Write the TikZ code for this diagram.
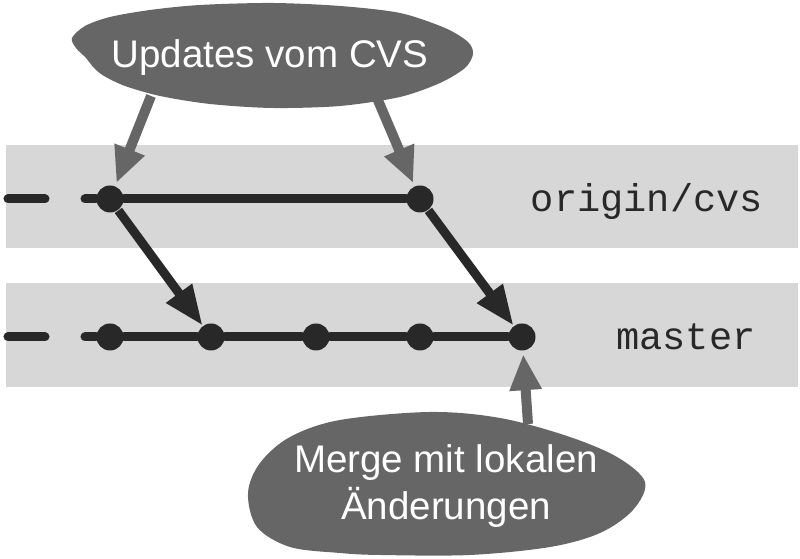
\documentclass[tikz,border=0pt]{standalone}
\usepackage{fontspec}
\setmainfont{Liberation Sans}
\newfontfamily\monofont{Liberation Mono}
\usetikzlibrary{arrows.meta}
\definecolor{bandgray}{HTML}{D7D7D7}
\definecolor{bubblegray}{HTML}{666666}
\definecolor{ink}{HTML}{282828}
\begin{document}
\begin{tikzpicture}[x=0.01cm,y=-0.01cm,
  commit/.style={circle,fill=ink,inner sep=0pt,minimum size=0.27cm},
  branchline/.style={draw=ink,line width=0.09cm,line cap=round},
  mergearrow/.style={draw=ink,line width=0.09cm,-{Triangle[length=0.40cm,width=0.30cm]}},
  pointer/.style={draw=bubblegray,line width=0.10cm,-{Triangle[length=0.36cm,width=0.30cm]},shorten >=0.03cm},
  bubbletext/.style={text=white,font=\fontsize{10.95pt}{13.4pt}\selectfont,align=center,inner sep=0pt},
  branchlabel/.style={font=\monofont\fontsize{11pt}{13pt}\selectfont,text=ink,inner sep=0pt,anchor=base}
]
\useasboundingbox (0,0) rectangle (800,559);
% bands
\fill[bandgray] (6,145) rectangle (798,248);
\fill[bandgray] (6,283) rectangle (798,387);
% bubbles
\fill[bubblegray] plot[smooth cycle,tension=0.5] coordinates {
  (72,38) (85,26) (110,17) (150,10) (200,5) (272,3) (340,6) (400,13)
  (445,28) (468,42) (473,54) (465,68) (440,83) (400,97) (340,106)
  (272,108) (210,104) (160,96) (125,86) (104,76) (94,68) (86,58) (76,48)};
\fill[bubblegray] plot[smooth cycle,tension=0.55] coordinates {
  (248,493) (260,463) (290,437) (340,420) (430,412) (500,418) (567,436)
  (617,457) (645,482) (633,510) (600,533) (550,547) (470,555) (380,555)
  (340,553) (290,547) (257,527)};
\node[bubbletext,anchor=base] (upd) at (270,68) {Updates vom CVS};
\node[bubbletext,anchor=base] (mrg) at (446,520) {Merge mit lokalen\\Änderungen};
% commits
\node[commit] (o1) at (110,199) {};
\node[commit] (o2) at (420,199) {};
\node[commit] (m1) at (110,337) {};
\node[commit] (m2) at (211,337) {};
\node[commit] (m3) at (316,337) {};
\node[commit] (m4) at (420,337) {};
\node[commit] (m5) at (522,337) {};
% branch lines
\coordinate (od1) at (8,199);  \coordinate (od2) at (45,199);
\coordinate (md1) at (8,337);  \coordinate (md2) at (45,337);
\coordinate (os) at (85,199);  \coordinate (ms) at (85,337);
\draw[branchline] (od1) -- (od2);
\draw[branchline] (md1) -- (md2);
\draw[branchline] (os) -- (o1) -- (o2);
\draw[branchline] (ms) -- (m1) -- (m2) -- (m3) -- (m4) -- (m5);
% merges
\draw[mergearrow] (o1) -- (m2);
\draw[mergearrow] (o2) -- (m5);
% pointers
\coordinate (p1) at (151,96);
\coordinate (p2) at (377,98);
\coordinate (p3) at (528,424);
\draw[pointer] (p1) -- (o1);
\draw[pointer] (p2) -- (o2);
\draw[pointer] (p3) -- (m5);
% labels
\node[branchlabel] (lo) at (647,212) {origin/cvs};
\node[branchlabel] (lm) at (686,350) {master};
\end{tikzpicture}
\end{document}
